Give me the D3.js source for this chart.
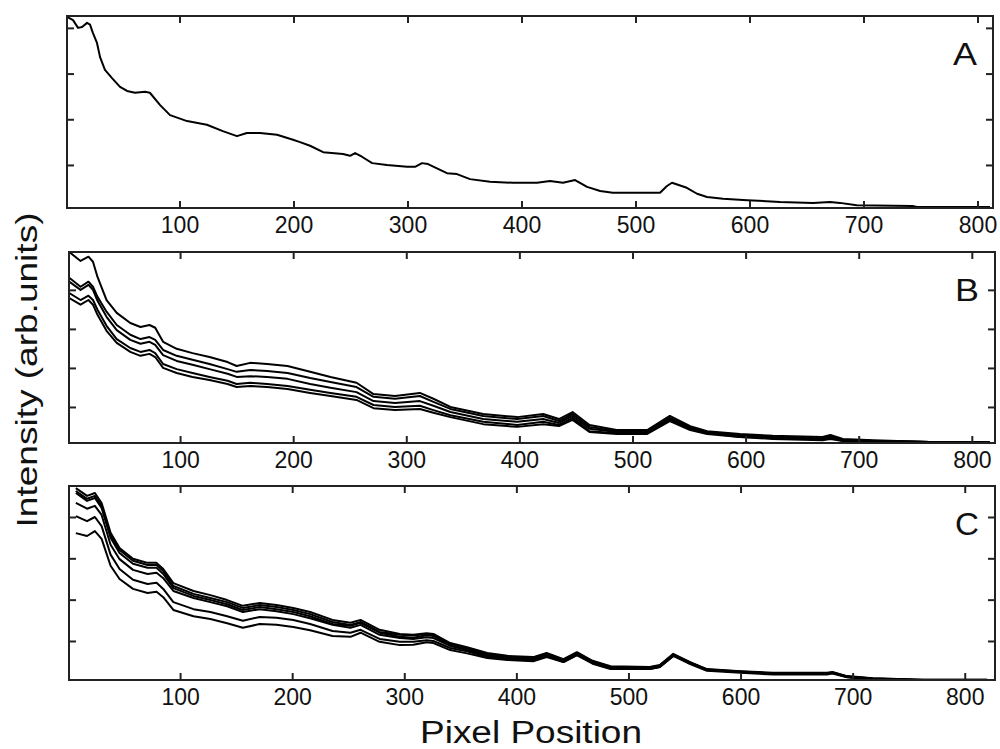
<!DOCTYPE html>
<meta charset="utf-8">
<style>
body { margin: 0; background: #fff; }
text { font-family: "Liberation Sans", Arial, sans-serif; fill: #111; }
</style>
<body>
<script src="https://cdn.jsdelivr.net/npm/d3@7"></script>
<script>

// panel A - one profile
const xA = [1.3, 6.6, 11, 14.5, 18.9, 21.5, 24, 27.6, 30.3, 34.6, 40.8, 47.8, 54, 61, 69.7, 74, 83, 91.7, 106.6, 124, 138, 150.4, 159, 170.6, 185.5, 199.6, 205.7, 214.5, 226, 243.4, 249.6, 254, 260, 269, 282, 299.6, 306.6, 312.7, 318, 334.6, 343.4, 354.8, 372.4, 392.5, 413.6, 425, 436.4, 447, 457.5, 469, 480, 501, 521.5, 527.6, 532, 545, 554, 562.7, 576.8, 598, 626.8, 655.7, 670.6, 679.4, 694, 743, 747, 811];
const yA = [4.24, 4.17, 4.00, 4.02, 4.11, 4.07, 3.89, 3.67, 3.36, 3.08, 2.90, 2.71, 2.62, 2.58, 2.60, 2.58, 2.31, 2.09, 1.96, 1.88, 1.74, 1.63, 1.70, 1.70, 1.66, 1.55, 1.50, 1.42, 1.28, 1.24, 1.20, 1.26, 1.18, 1.04, 1.00, 0.96, 0.96, 1.04, 1.02, 0.82, 0.80, 0.69, 0.63, 0.61, 0.61, 0.65, 0.61, 0.67, 0.52, 0.43, 0.39, 0.39, 0.39, 0.54, 0.61, 0.50, 0.37, 0.30, 0.26, 0.23, 0.19, 0.17, 0.19, 0.17, 0.12, 0.10, 0.08, 0.08];

// panel B - five profiles
const xB = [2, 12, 19, 23, 27, 35, 44, 56, 65, 73, 78, 85, 97, 111, 126, 142, 150, 162, 177, 195, 215, 233, 256, 271, 290, 312, 324, 339, 368, 398, 421, 435, 447, 462, 486, 513, 533, 551, 566, 595, 624, 668, 675, 686, 713, 763, 816];
const yB1 = [4.97, 4.74, 4.85, 4.72, 4.33, 3.74, 3.41, 3.15, 3.05, 3.10, 3.03, 2.67, 2.49, 2.38, 2.28, 2.15, 2.05, 2.13, 2.10, 2.05, 1.90, 1.77, 1.62, 1.33, 1.28, 1.36, 1.21, 1.00, 0.82, 0.74, 0.82, 0.69, 0.87, 0.54, 0.41, 0.41, 0.77, 0.51, 0.38, 0.31, 0.26, 0.23, 0.28, 0.18, 0.15, 0.10, 0.10];
const yB2 = [4.31, 4.08, 4.21, 4.08, 3.82, 3.44, 3.10, 2.85, 2.74, 2.79, 2.72, 2.46, 2.31, 2.21, 2.10, 1.97, 1.90, 1.95, 1.92, 1.87, 1.74, 1.64, 1.51, 1.26, 1.21, 1.28, 1.13, 0.95, 0.77, 0.69, 0.77, 0.64, 0.82, 0.49, 0.38, 0.38, 0.72, 0.49, 0.36, 0.28, 0.23, 0.21, 0.26, 0.15, 0.13, 0.10, 0.08];
const yB3 = [4.21, 4.00, 4.13, 4.00, 3.72, 3.31, 2.97, 2.72, 2.62, 2.67, 2.59, 2.33, 2.18, 2.08, 1.97, 1.85, 1.77, 1.79, 1.77, 1.72, 1.59, 1.49, 1.38, 1.15, 1.10, 1.15, 1.03, 0.87, 0.69, 0.62, 0.69, 0.59, 0.77, 0.44, 0.36, 0.36, 0.69, 0.46, 0.33, 0.26, 0.21, 0.18, 0.23, 0.15, 0.13, 0.10, 0.08];
const yB4 = [3.92, 3.74, 3.85, 3.74, 3.49, 3.08, 2.74, 2.51, 2.41, 2.46, 2.38, 2.10, 1.97, 1.87, 1.77, 1.67, 1.59, 1.62, 1.59, 1.54, 1.44, 1.36, 1.26, 1.05, 1.00, 1.03, 0.92, 0.79, 0.62, 0.54, 0.62, 0.54, 0.72, 0.38, 0.33, 0.33, 0.67, 0.44, 0.33, 0.23, 0.21, 0.18, 0.21, 0.13, 0.13, 0.10, 0.08];
const yB5 = [3.79, 3.62, 3.74, 3.62, 3.36, 2.95, 2.64, 2.41, 2.31, 2.36, 2.28, 2.00, 1.87, 1.77, 1.69, 1.59, 1.51, 1.54, 1.51, 1.46, 1.36, 1.28, 1.18, 0.97, 0.92, 0.95, 0.85, 0.74, 0.56, 0.49, 0.56, 0.51, 0.67, 0.36, 0.31, 0.31, 0.64, 0.41, 0.31, 0.23, 0.18, 0.15, 0.18, 0.13, 0.10, 0.08, 0.08];

// panel C - six profiles
const xC = [7, 17, 24, 30, 38, 46, 58, 71, 79, 85, 94, 112, 127, 142, 156, 171, 186, 201, 216, 236, 252, 261, 278, 296, 308, 320, 326, 341, 356, 374, 392, 415, 427, 442, 454, 468, 484, 519, 528, 540, 555, 570, 600, 629, 677, 682, 695, 718, 763, 820];
const yC1 = [4.70, 4.51, 4.58, 4.34, 3.62, 3.25, 2.99, 2.89, 2.89, 2.74, 2.40, 2.21, 2.11, 1.99, 1.85, 1.92, 1.87, 1.80, 1.70, 1.51, 1.44, 1.51, 1.27, 1.17, 1.15, 1.19, 1.17, 0.95, 0.85, 0.71, 0.64, 0.61, 0.71, 0.56, 0.73, 0.52, 0.39, 0.37, 0.42, 0.69, 0.49, 0.32, 0.27, 0.23, 0.23, 0.25, 0.15, 0.10, 0.06, 0.06];
const yC2 = [4.63, 4.44, 4.51, 4.27, 3.55, 3.20, 2.94, 2.84, 2.84, 2.69, 2.33, 2.14, 2.04, 1.94, 1.80, 1.87, 1.82, 1.75, 1.65, 1.46, 1.39, 1.46, 1.22, 1.15, 1.13, 1.17, 1.15, 0.93, 0.83, 0.69, 0.62, 0.59, 0.69, 0.54, 0.71, 0.50, 0.37, 0.36, 0.41, 0.67, 0.48, 0.31, 0.26, 0.22, 0.22, 0.24, 0.14, 0.09, 0.06, 0.06];
const yC3 = [4.58, 4.39, 4.46, 4.22, 3.50, 3.13, 2.87, 2.77, 2.77, 2.62, 2.28, 2.09, 1.99, 1.89, 1.75, 1.82, 1.77, 1.70, 1.60, 1.41, 1.37, 1.44, 1.20, 1.10, 1.08, 1.14, 1.12, 0.90, 0.80, 0.66, 0.59, 0.59, 0.69, 0.54, 0.71, 0.50, 0.37, 0.35, 0.40, 0.67, 0.47, 0.30, 0.25, 0.21, 0.21, 0.23, 0.14, 0.09, 0.05, 0.05];
const yC4 = [4.34, 4.20, 4.27, 4.05, 3.33, 2.98, 2.72, 2.62, 2.65, 2.52, 2.21, 2.04, 1.94, 1.84, 1.70, 1.77, 1.72, 1.65, 1.55, 1.39, 1.32, 1.39, 1.15, 1.07, 1.05, 1.09, 1.07, 0.88, 0.78, 0.64, 0.59, 0.56, 0.66, 0.51, 0.68, 0.47, 0.34, 0.35, 0.40, 0.67, 0.47, 0.30, 0.25, 0.21, 0.21, 0.23, 0.13, 0.08, 0.05, 0.05];
const yC5 = [4.02, 3.90, 4.00, 3.78, 3.09, 2.74, 2.48, 2.38, 2.41, 2.26, 1.94, 1.77, 1.70, 1.60, 1.49, 1.58, 1.56, 1.51, 1.41, 1.24, 1.20, 1.27, 1.05, 0.98, 0.98, 1.02, 1.00, 0.83, 0.75, 0.61, 0.57, 0.54, 0.64, 0.49, 0.66, 0.47, 0.34, 0.32, 0.37, 0.64, 0.47, 0.30, 0.25, 0.21, 0.21, 0.23, 0.13, 0.08, 0.05, 0.05];
const yC6 = [3.61, 3.54, 3.66, 3.47, 2.82, 2.50, 2.26, 2.16, 2.19, 2.06, 1.75, 1.60, 1.53, 1.43, 1.32, 1.41, 1.39, 1.34, 1.26, 1.12, 1.10, 1.20, 0.98, 0.90, 0.91, 0.97, 0.95, 0.78, 0.70, 0.59, 0.54, 0.51, 0.61, 0.49, 0.66, 0.45, 0.32, 0.32, 0.37, 0.64, 0.44, 0.28, 0.23, 0.19, 0.19, 0.21, 0.12, 0.07, 0.05, 0.05];

const xTicks = [100, 200, 300, 400, 500, 600, 700, 800];
const yTicks = [1, 2, 3, 4];

const width = 1000, height = 749;

const panels = [
	{ name: "A", xs: xA, ys: [yA], left: 67, right: 993, top: 16, bottom: 208, xDom: [1.3, 813.6], yDom: [0.058, 4.26] },
	{ name: "B", xs: xB, ys: [yB1, yB2, yB3, yB4, yB5], left: 69, right: 995, top: 252, bottom: 443, xDom: [1.8, 820.5], yDom: [0.077, 4.97] },
	{ name: "C", xs: xC, ys: [yC1, yC2, yC3, yC4, yC5, yC6], left: 69, right: 995, top: 486, bottom: 680, xDom: [0.9, 827], yDom: [0.056, 4.75] }
];

let svg = d3.select("body").append("svg")
	.attr("width", width)
	.attr("height", height);

panels.forEach((p, k) => {
	let x = d3.scaleLinear().domain(p.xDom).range([p.left, p.right]);
	let y = d3.scaleLinear().domain(p.yDom).range([p.bottom, p.top]);
	let g = svg.append("g").attr("class", "panel");

	g.append("clipPath").attr("id", "clip" + k)
		.append("rect")
		.attr("x", p.left).attr("y", p.top)
		.attr("width", p.right - p.left).attr("height", p.bottom - p.top);

	let line = d3.line()
		.x((d, i) => x(p.xs[i]))
		.y(d => y(d));

	g.append("g").attr("clip-path", "url(#clip" + k + ")")
		.selectAll("path")
		.data(p.ys)
		.enter().append("path")
		.attr("d", line)
		.attr("fill", "none")
		.attr("stroke", "#000")
		.attr("stroke-width", 2)
		.attr("stroke-linejoin", "round");

	// ticks point inward on all four sides
	let bottomAxis = g.append("g")
		.attr("transform", "translate(0," + p.bottom + ")")
		.call(d3.axisBottom(x).tickValues(xTicks).tickSize(-7).tickPadding(9));
	bottomAxis.selectAll("text")
		.attr("font-size", 23)
		.attr("fill", "#222");

	g.append("g")
		.attr("transform", "translate(0," + p.top + ")")
		.call(d3.axisTop(x).tickValues(xTicks).tickSize(-7).tickFormat(""));
	g.append("g")
		.attr("transform", "translate(" + p.left + ",0)")
		.call(d3.axisLeft(y).tickValues(yTicks).tickSize(-7).tickFormat(""));
	g.append("g")
		.attr("transform", "translate(" + p.right + ",0)")
		.call(d3.axisRight(y).tickValues(yTicks).tickSize(-7).tickFormat(""));

	g.selectAll(".domain").remove();
	g.selectAll(".tick line").attr("stroke", "#222").attr("stroke-width", 2);

	g.append("rect")
		.attr("x", p.left).attr("y", p.top)
		.attr("width", p.right - p.left).attr("height", p.bottom - p.top)
		.attr("fill", "none")
		.attr("stroke", "#222")
		.attr("stroke-width", 2);

	g.append("text")
		.attr("x", p.right - 16)
		.attr("y", p.top + 49)
		.attr("text-anchor", "end")
		.attr("font-size", 31)
		.attr("textLength", 24)
		.attr("lengthAdjust", "spacingAndGlyphs")
		.text(p.name);
});

svg.append("text")
	.attr("x", 531)
	.attr("y", 743)
	.attr("text-anchor", "middle")
	.attr("font-size", 31)
	.attr("textLength", 222)
	.attr("lengthAdjust", "spacingAndGlyphs")
	.text("Pixel Position");

svg.append("text")
	.attr("transform", "translate(37,370) rotate(-90)")
	.attr("text-anchor", "middle")
	.attr("font-size", 30)
	.attr("textLength", 315)
	.attr("lengthAdjust", "spacingAndGlyphs")
	.text("Intensity (arb.units)");

</script>
</body>
